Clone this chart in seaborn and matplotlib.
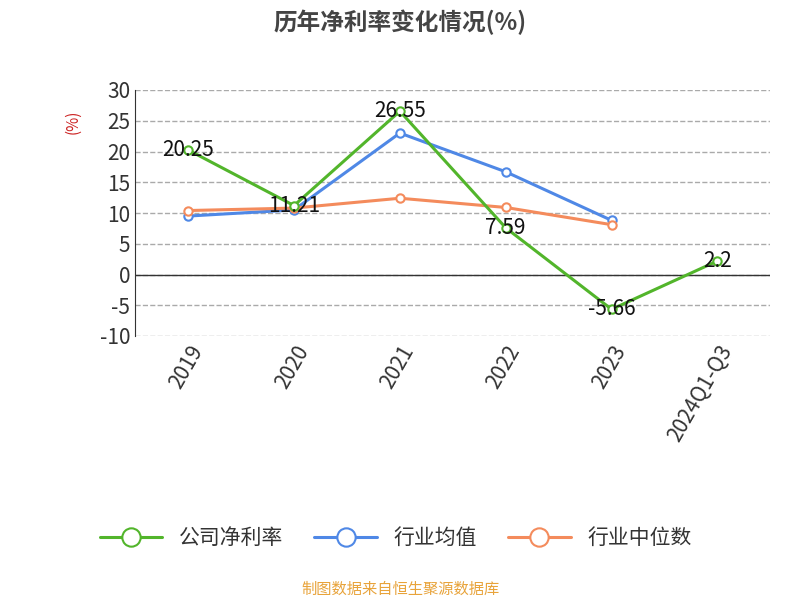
import matplotlib
matplotlib.use("Agg")
import matplotlib.pyplot as plt
import seaborn as sns
import pandas as pd
import numpy as np

categories = ["2019", "2020", "2021", "2022", "2023", "2024Q1-Q3"]
company = [20.25, 11.21, 26.55, 7.59, -5.66, 2.2]
ind_avg = [9.5, 10.5, 23.0, 16.7, 8.8, np.nan]
ind_med = [10.4, 10.8, 12.4, 10.9, 8.1, np.nan]

sns.set_style("white")
plt.rcParams['font.family'] = ['Noto Sans CJK SC', 'DejaVu Sans']
plt.rcParams['axes.unicode_minus'] = False

fig = plt.figure(figsize=(8, 6), dpi=100)
ax = fig.add_axes([0.169, 0.44, 0.794, 0.41])

x = np.arange(len(categories))
df = pd.DataFrame({"x": x, "c": company, "a": ind_avg, "m": ind_med})
specs = [("c", "#52b52b", "公司净利率"), ("a", "#4f88e6", "行业均值"), ("m", "#f48b5c", "行业中位数")]
for col, color, lab in specs:
    d = df.dropna(subset=[col])
    sns.lineplot(data=d, x="x", y=col, ax=ax, color=color, lw=2.2, marker="o",
                 markersize=6, markerfacecolor="white", markeredgecolor=color,
                 markeredgewidth=1.5, label=lab, zorder=3 if col == "c" else 2)

for xi, v in zip(x, company):
    ax.text(xi, v, f"{v:g}", ha="center", va="center", fontsize=15, color="#111111", zorder=5)

ax.set_xlim(-0.5, 5.5)
ax.set_ylim(-10, 30)
ax.set_yticks(range(-10, 31, 5))
ax.set_xticks(x)
ax.set_xticklabels(categories, rotation=60, ha="right", rotation_mode="anchor", fontsize=15, color="#333333")
ax.tick_params(axis="y", labelsize=15, labelcolor="#333333", length=0)
ax.set_xticks(np.arange(-0.5, 5.6, 1), minor=True)
ax.tick_params(axis="x", which="minor", length=6, color="#333333")
ax.tick_params(axis="x", which="major", length=0, pad=4)
ax.grid(axis="y", ls="--", color="#aaaaaa", lw=1)
for s in ["top", "right", "bottom"]:
    ax.spines[s].set_visible(False)
ax.spines["left"].set_color("#333333")
ax.axhline(0, color="#333333", lw=1, zorder=1)
ax.set_xlabel("")
ax.set_ylabel("(%)", color="#cc2222", fontsize=11)
ax.yaxis.set_label_coords(-0.085, 0.87)

leg = ax.legend(loc="upper center", bbox_to_anchor=(0.41, -0.7), ncol=3, frameon=False,
                fontsize=15, handlelength=3, columnspacing=1.5, markerscale=2.2)
for t in leg.get_texts():
    t.set_color("#333333")

fig.text(0.5, 0.962, "历年净利率变化情况(%)", ha="center", va="center", fontsize=17,
         fontweight="bold", color="#444444")
fig.text(0.5, 0.018, "制图数据来自恒生聚源数据库", ha="center", va="center", fontsize=11,
         color="#e8a33a")

fig.savefig("out.png", dpi=100)
